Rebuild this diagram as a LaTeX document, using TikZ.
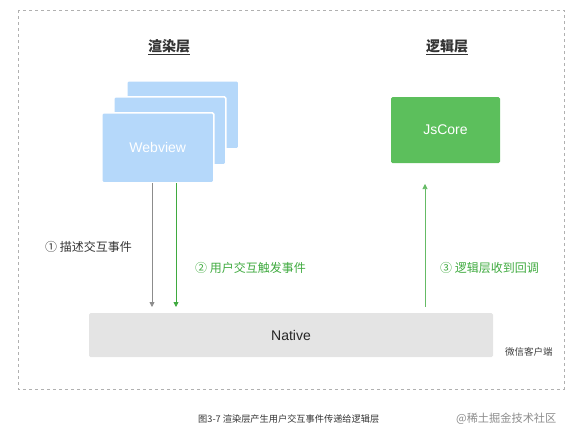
\documentclass[tikz,border=0pt]{standalone}
\usepackage{fontspec}
\setmainfont{Liberation Sans}
\newfontfamily\cjk{Noto Sans CJK SC}
\usetikzlibrary{arrows.meta}
\definecolor{wvblue}{HTML}{B5D8FA}
\definecolor{jsgreen}{HTML}{5CBF5C}
\definecolor{txtgreen}{HTML}{3FAA3F}
\definecolor{nativegray}{HTML}{E4E4E4}
\definecolor{framegray}{HTML}{B0B0B0}
\tikzset{
  wvbox/.style={fill=wvblue, draw=white, line width=1.5pt, rounded corners=1.5pt, minimum width=112pt, minimum height=68pt, inner sep=0pt, anchor=north west},
  title/.style={font=\cjk\bfseries\fontsize{14}{16}\selectfont, text=black!80, inner sep=1pt},
  lbl/.style={font=\cjk\fontsize{12}{14}\selectfont, inner sep=0pt},
  flow/.style={line width=0.8pt, -{Triangle[length=5pt,width=5pt]}},
}
\begin{document}
\begin{tikzpicture}[x=1pt,y=-1pt]
\useasboundingbox (0,0) rectangle (579,445);
% frame
\draw[framegray, dashed, dash pattern=on 3pt off 3pt, line width=0.6pt] (18,10) rectangle (564,389);
% titles
\node[title] (t1) at (169,47) {\underline{渲染层}};
\node[title] (t2) at (447,47) {\underline{逻辑层}};
% webview stack
\node[wvbox] (wv3) at (126,80) {};
\node[wvbox] (wv2) at (113,96) {};
\node[wvbox, minimum height=70pt] (wv1) at (101,112) {};
\node[font=\fontsize{14}{16}\selectfont, text=white] (wvt) at (wv1.center) {Webview};
% jscore
\node[fill=jsgreen, rounded corners=1.5pt, minimum width=109pt, minimum height=66pt, inner sep=0pt, text=white, font=\fontsize{14}{16}\selectfont] (js) at (445.5,130) {JsCore};
% native
\node[fill=nativegray, rounded corners=1.5pt, minimum width=404pt, minimum height=44pt, inner sep=0pt, font=\fontsize{14}{16}\selectfont, text=black!85] (nat) at (291,335) {Native};
% connectors
\coordinate (a1s) at (152,183);
\coordinate (a1e) at (152,307);
\coordinate (a2s) at (176,183);
\coordinate (a2e) at (176,307);
\coordinate (a3s) at (425,307);
\coordinate (a3e) at (425,184);
\draw[flow, draw=gray!90] (a1s) -- (a1e);
\draw[flow, draw=txtgreen] (a2s) -- (a2e);
\draw[flow, draw=txtgreen!80, line width=0.6pt] (a3s) -- (a3e);
% labels
\node[lbl, anchor=west, text=black!80] (l1) at (45,247) {① 描述交互事件};
\node[lbl, anchor=west, text=txtgreen] (l2) at (195,268) {② 用户交互触发事件};
\node[lbl, anchor=west, text=txtgreen] (l3) at (440,268) {③ 逻辑层收到回调};
\node[font=\cjk\fontsize{9.5}{11}\selectfont, anchor=west, inner sep=0pt, text=black!75] (client) at (505,352) {微信客户端};
% caption
\node[font=\cjk\fontsize{9.2}{11}\selectfont, anchor=west, inner sep=0pt, text=black!80] (cap) at (198,419) {图3-7 渲染层产生用户交互事件传递给逻辑层};
\node[font=\cjk\fontsize{11.2}{13}\selectfont, anchor=west, inner sep=0pt, text=black!45] (wm) at (456,419) {@稀土掘金技术社区};
\end{tikzpicture}
\end{document}
